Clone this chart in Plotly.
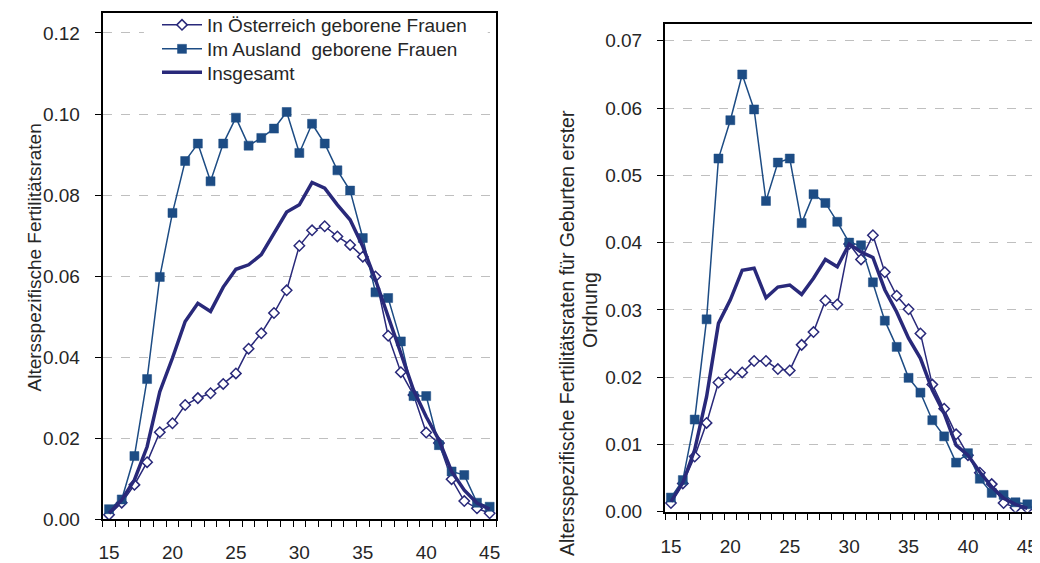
import plotly.graph_objects as go

ages = list(range(15, 46))

# Left chart: age-specific fertility rates
left_austria = [0.0011, 0.0041, 0.0085, 0.0141, 0.0215, 0.0237, 0.0282, 0.0299, 0.0311, 0.0334,
                0.0360, 0.0421, 0.0459, 0.0509, 0.0565, 0.0675, 0.0713, 0.0723, 0.0698, 0.0677,
                0.0648, 0.0599, 0.0453, 0.0363, 0.0307, 0.0214, 0.0188, 0.0099, 0.0045, 0.0027, 0.0015]
left_foreign = [0.0025, 0.0049, 0.0156, 0.0346, 0.0598, 0.0756, 0.0884, 0.0927, 0.0834, 0.0927,
                0.0991, 0.0922, 0.0941, 0.0964, 0.1005, 0.0904, 0.0976, 0.0927, 0.0861, 0.0811,
                0.0694, 0.0560, 0.0546, 0.0439, 0.0304, 0.0304, 0.0183, 0.0118, 0.0109, 0.0041, 0.0031]
left_total = [0.0015, 0.0048, 0.0097, 0.0179, 0.0315, 0.0398, 0.0488, 0.0533, 0.0513, 0.0573,
              0.0617, 0.0628, 0.0653, 0.0706, 0.0758, 0.0776, 0.0831, 0.0817, 0.0776, 0.0739,
              0.0673, 0.0591, 0.0500, 0.0410, 0.0319, 0.0253, 0.0196, 0.0118, 0.0072, 0.0040, 0.0025]

# Right chart: first-order birth rates
right_austria = [0.0013, 0.0042, 0.0082, 0.0132, 0.0192, 0.0204, 0.0207, 0.0224, 0.0224, 0.0212,
                 0.0210, 0.0248, 0.0267, 0.0314, 0.0308, 0.0398, 0.0375, 0.0411, 0.0356, 0.0321,
                 0.0301, 0.0265, 0.0189, 0.0153, 0.0115, 0.0084, 0.0058, 0.0041, 0.0013, 0.0006, 0.0005]
right_foreign = [0.0021, 0.0047, 0.0137, 0.0286, 0.0525, 0.0582, 0.0650, 0.0598, 0.0462, 0.0519,
                 0.0525, 0.0429, 0.0472, 0.0459, 0.0431, 0.0400, 0.0396, 0.0341, 0.0284, 0.0245,
                 0.0199, 0.0177, 0.0136, 0.0112, 0.0073, 0.0087, 0.0049, 0.0028, 0.0025, 0.0014, 0.0011]
right_total = [0.0015, 0.0043, 0.0092, 0.0171, 0.0280, 0.0315, 0.0359, 0.0362, 0.0318, 0.0334,
               0.0337, 0.0323, 0.0347, 0.0375, 0.0364, 0.0398, 0.0386, 0.0378, 0.0330, 0.0297,
               0.0258, 0.0228, 0.0181, 0.0146, 0.0099, 0.0084, 0.0059, 0.0037, 0.0020, 0.0011, 0.0005]

names = ["In Österreich geborene Frauen", "Im Ausland  geborene Frauen", "Insgesamt"]
x_tickvals = [15, 20, 25, 30, 35, 40, 45]
left_yticks = [0, 0.02, 0.04, 0.06, 0.08, 0.10, 0.12]
right_yticks = [0, 0.01, 0.02, 0.03, 0.04, 0.05, 0.06, 0.07]
left_title = "Altersspezifische Fertilitätsraten"
right_title_1 = "Altersspezifische Fertilitätsraten für Geburten erster"
right_title_2 = "Ordnung"

NAVY = "#29297A"
BLUE = "#1D4C84"
FONT = "Liberation Sans, Arial, sans-serif"
TXT = "#262626"

# page offset from default body margin
OFF = 8
W, H = 1040 - OFF, 563 - OFF

def dx(a, b):
    return [(a - OFF) / W, (b - OFF) / W]

def dy(top, bottom):
    return [1 - (bottom - OFF) / H, 1 - (top - OFF) / H]

def px(x):
    return (x - OFF) / W

def py(y):
    return 1 - (y - OFF) / H

fig = go.Figure()

def add_series(xa, ya, aus, fgn, tot, show):
    fig.add_trace(go.Scatter(x=ages, y=aus, name=names[0], mode="lines+markers", xaxis=xa, yaxis=ya,
                             line=dict(color=NAVY, width=1.5),
                             marker=dict(symbol="diamond", size=8, color="white",
                                         line=dict(color=NAVY, width=1.5)),
                             showlegend=show, legend="legend"))
    fig.add_trace(go.Scatter(x=ages, y=fgn, name=names[1], mode="lines+markers", xaxis=xa, yaxis=ya,
                             line=dict(color=BLUE, width=1.5),
                             marker=dict(symbol="square", size=9, color=BLUE,
                                         line=dict(color=BLUE, width=0.5)),
                             showlegend=show, legend="legend2"))
    fig.add_trace(go.Scatter(x=ages, y=tot, name=names[2], mode="lines", xaxis=xa, yaxis=ya,
                             line=dict(color=NAVY, width=3.5),
                             showlegend=show, legend="legend3"))

add_series("x", "y", left_austria, left_foreign, left_total, True)
add_series("x2", "y2", right_austria, right_foreign, right_total, False)

xcommon = dict(range=[14.5, 45.5], tickvals=x_tickvals, ticks="", showgrid=False,
               showline=True, linecolor="black", linewidth=2, mirror=True, automargin=False,
               tickfont=dict(family=FONT, size=19, color=TXT),
               minor=dict(tick0=14.5, dtick=1, ticks="outside", ticklen=6, tickcolor="black",
                          tickwidth=1.2, showgrid=False),
               zeroline=False, fixedrange=True)
ycommon = dict(ticks="outside", ticklen=6, tickcolor="black", tickwidth=1.2,
               showline=True, linecolor="black", linewidth=2, mirror=True, automargin=False,
               showgrid=True, gridcolor="#BFBFBF", griddash="dash", gridwidth=1,
               tickfont=dict(family=FONT, size=19, color=TXT), ticklabelstandoff=11,
               zeroline=False, fixedrange=True)

def legend_at(ycenter):
    return dict(x=px(157), y=py(ycenter), xanchor="left", yanchor="middle",
                bgcolor="rgba(0,0,0,0)", borderwidth=0,
                font=dict(family=FONT, size=19, color=TXT), itemwidth=40)

fig.update_layout(
    width=W, height=H,
    margin=dict(l=0, r=0, t=0, b=0, autoexpand=False),
    paper_bgcolor="white", plot_bgcolor="white",
    font=dict(family=FONT, size=19, color=TXT),
    xaxis=dict(domain=dx(102.7, 496), anchor="y", ticklabelstandoff=15, **xcommon),
    yaxis=dict(domain=dy(12.7, 519.3), anchor="x", range=[0, 0.125],
               tickvals=left_yticks, tickformat=".2f", **ycommon),
    xaxis2=dict(domain=dx(665, 1033.3), anchor="y2", ticklabelstandoff=16, **xcommon),
    yaxis2=dict(domain=dy(24, 511.7), anchor="x2", range=[0, 0.0725],
                tickvals=right_yticks, tickformat=".2f", **ycommon),
    legend=legend_at(25),
    legend2=legend_at(49),
    legend3=legend_at(72.5),
    showlegend=True,
)

# white patch behind legend hiding the gridline (drawn above grid, below traces)
fig.add_shape(type="rect", xref="x", yref="y", layer="between",
              x0=17.75, x1=44.85, y0=0.1055, y1=0.1249,
              fillcolor="white", line=dict(width=0))

fig.add_annotation(text=left_title, x=px(21), y=py(258), xref="paper", yref="paper",
                   textangle=-90, showarrow=False, font=dict(family=FONT, size=19, color=TXT))
fig.add_annotation(text=right_title_1, x=px(567), y=py(333), xref="paper", yref="paper",
                   textangle=-90, showarrow=False, font=dict(family=FONT, size=19.5, color=TXT))
fig.add_annotation(text=right_title_2, x=px(590), y=py(310), xref="paper", yref="paper",
                   textangle=-90, showarrow=False, font=dict(family=FONT, size=19.5, color=TXT))

fig.write_html("out.html")
